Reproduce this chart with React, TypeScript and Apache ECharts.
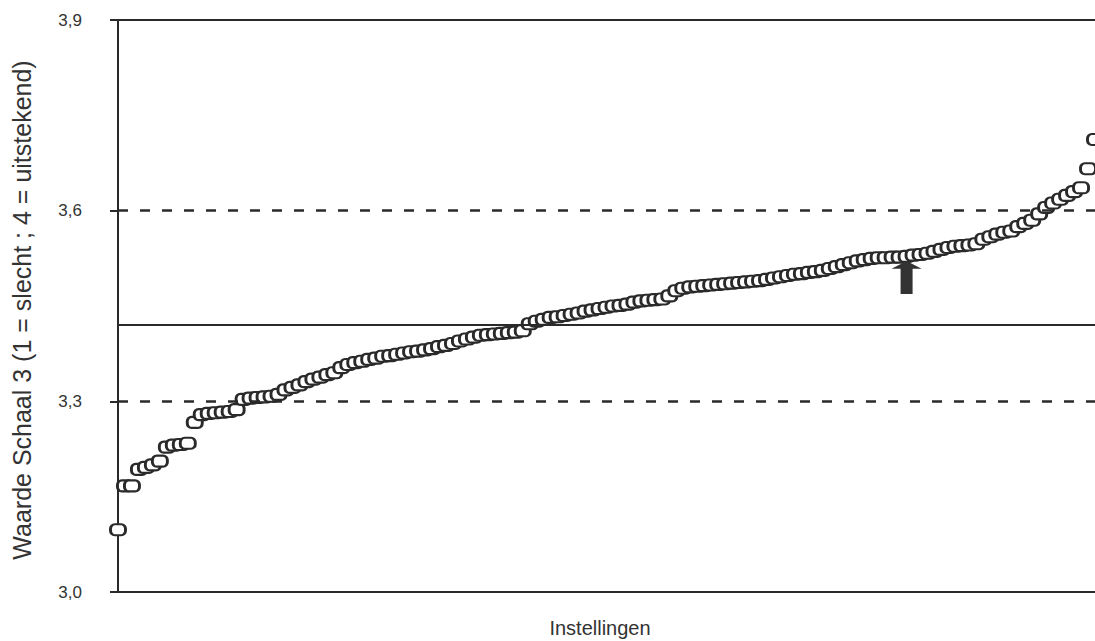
import React, { useEffect, useRef } from "react";
import * as echarts from "echarts";

// Y-axis range / ticks
const yMin = 3.0;
const yMax = 3.9;
const yInterval = 0.3;

// Reference lines
const meanValue = 3.417;
const bandLow = 3.3;
const bandHigh = 3.6;

// Highlighted institution (arrow)
const highlightIndex = 113;

// Ranked institution scores (left to right)
const scores = [
  3.098, 3.167, 3.167, 3.193, 3.196, 3.2, 3.206, 3.228, 3.231, 3.232,
  3.234, 3.267, 3.279, 3.281, 3.282, 3.283, 3.284, 3.287, 3.303, 3.305,
  3.306, 3.307, 3.308, 3.311, 3.318, 3.322, 3.326, 3.331, 3.335, 3.338,
  3.342, 3.345, 3.353, 3.358, 3.361, 3.363, 3.366, 3.368, 3.371, 3.372,
  3.374, 3.376, 3.378, 3.379, 3.381, 3.383, 3.386, 3.388, 3.391, 3.395,
  3.398, 3.401, 3.404, 3.405, 3.406, 3.407, 3.408, 3.409, 3.411, 3.422,
  3.426, 3.429, 3.432, 3.433, 3.435, 3.437, 3.439, 3.442, 3.444, 3.446,
  3.448, 3.45, 3.451, 3.453, 3.456, 3.458, 3.459, 3.46, 3.461, 3.466,
  3.474, 3.478, 3.48, 3.481, 3.482, 3.483, 3.484, 3.485, 3.486, 3.487,
  3.488, 3.489, 3.49, 3.492, 3.494, 3.496, 3.498, 3.5, 3.501, 3.503,
  3.504, 3.506, 3.509, 3.512, 3.515, 3.518, 3.521, 3.523, 3.525, 3.526,
  3.526, 3.527, 3.527, 3.528, 3.53, 3.531, 3.533, 3.536, 3.539, 3.542,
  3.544, 3.545, 3.546, 3.548, 3.555, 3.559, 3.563, 3.566, 3.568, 3.575,
  3.58, 3.585, 3.595, 3.605, 3.612, 3.618, 3.624, 3.63, 3.636, 3.666,
  3.712,
];

const yAxisName = "Waarde Schaal 3 (1 = slecht ; 4 = uitstekend)";
const xAxisName = "Instellingen";

const FONT = '"Liberation Sans", Arial, Helvetica, sans-serif';
const INK = "#2a2a2a";

const markerPath =
  "path://M4,0 H10 A4,4 0 0 1 14,4 V6 A4,4 0 0 1 10,10 H4 A4,4 0 0 1 0,6 V4 A4,4 0 0 1 4,0 Z";
const arrowPath = "path://M15,0 L30,8 L21,8 L21,34 L9,34 L9,8 L0,8 Z";

export default function App() {
  const ref = useRef<HTMLDivElement>(null);

  useEffect(() => {
    if (!ref.current) return;
    const chart = echarts.init(ref.current, null, { renderer: "svg" });
    chart.setOption({
      animation: false,
      backgroundColor: "#ffffff",
      grid: { left: 118, top: 20, bottom: 49, right: -3, containLabel: false },
      xAxis: {
        type: "value",
        min: 0,
        max: scores.length - 1,
        axisLine: { show: true, onZero: false, lineStyle: { color: INK, width: 2 } },
        axisTick: { show: false },
        axisLabel: { show: false },
        splitLine: { show: false },
      },
      yAxis: {
        type: "value",
        min: yMin,
        max: yMax,
        interval: yInterval,
        axisLine: { show: true, lineStyle: { color: INK, width: 2 } },
        axisTick: { show: true, length: 8, lineStyle: { color: INK, width: 2 } },
        axisLabel: {
          margin: 36,
          color: "#333",
          fontFamily: FONT,
          fontSize: 17,
          fontWeight: "normal",
          formatter: (v: number) => v.toFixed(1).replace(".", ","),
        },
        splitLine: { show: false },
      },
      graphic: [
        {
          type: "text",
          x: 22,
          y: 310,
          rotation: Math.PI / 2,
          style: {
            text: yAxisName,
            fill: "#333",
            font: `25px ${FONT}`,
            textAlign: "center",
            textVerticalAlign: "middle",
          },
        },
        {
          type: "text",
          x: 600,
          y: 628,
          style: {
            text: xAxisName,
            fill: "#333",
            font: `20px ${FONT}`,
            textAlign: "center",
            textVerticalAlign: "middle",
          },
        },
      ],
      series: [
        {
          type: "line",
          data: [],
          z: 1,
          silent: true,
          markLine: {
            silent: true,
            symbol: ["none", "none"],
            label: { show: false },
            data: [
              { yAxis: yMax, lineStyle: { color: INK, width: 2, type: "solid" } },
              { yAxis: meanValue, lineStyle: { color: INK, width: 2, type: "solid" } },
              { yAxis: bandHigh, lineStyle: { color: INK, width: 2.5, type: [10, 12] } },
              { yAxis: bandLow, lineStyle: { color: INK, width: 2.5, type: [10, 12] } },
            ],
          },
        },
        {
          type: "scatter",
          z: 3,
          symbol: markerPath,
          symbolSize: [15, 11],
          itemStyle: { color: "#ffffff", borderColor: INK, borderWidth: 2.5, opacity: 1 },
          data: scores.map((v, i) => [i, v]),
          markPoint: {
            silent: true,
            label: { show: false },
            data: [
              {
                coord: [highlightIndex, scores[highlightIndex]],
                symbol: arrowPath,
                symbolSize: [30, 33],
                symbolOffset: [0, 21],
                itemStyle: { color: "#333", borderWidth: 0 },
              },
            ],
          },
        },
      ],
    });
    return () => chart.dispose();
  }, []);

  return (
    <div
      ref={ref}
      style={{ position: "absolute", left: 0, top: 0, width: 1095, height: 641, background: "#fff" }}
    />
  );
}
